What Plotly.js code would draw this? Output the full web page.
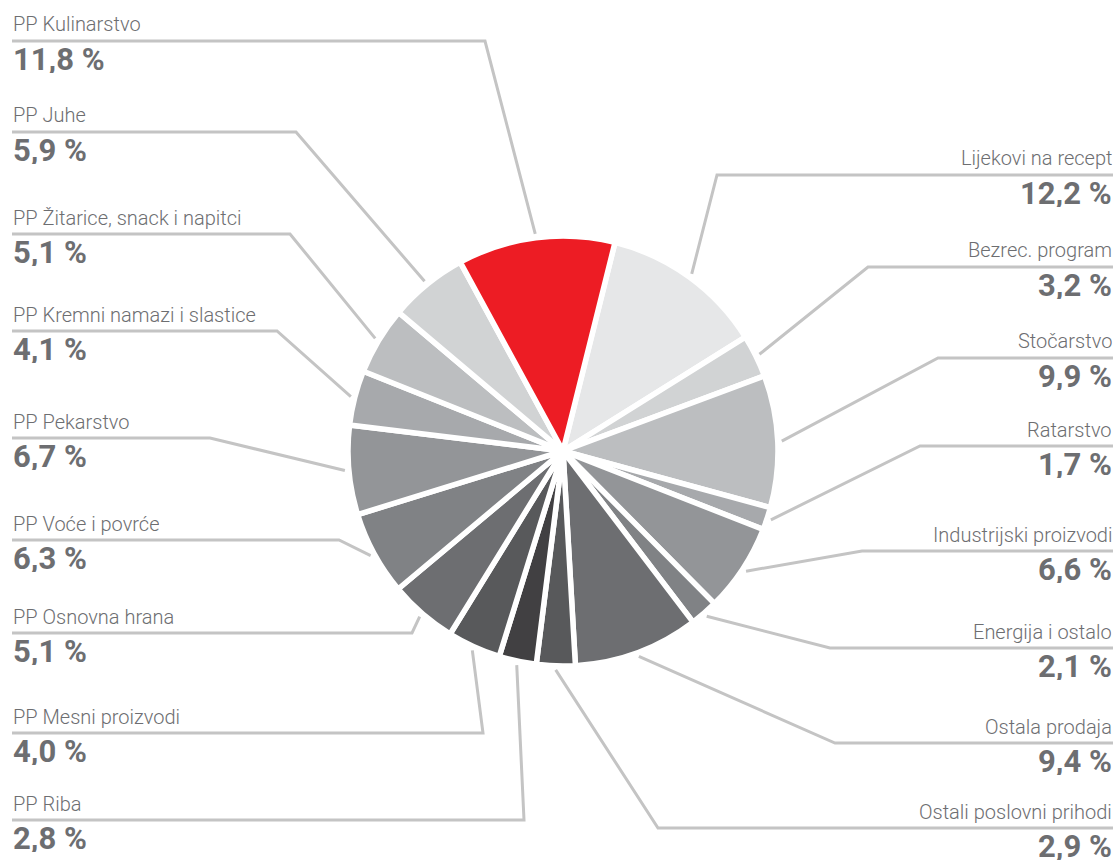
<!DOCTYPE html>
<html><head><meta charset="utf-8">
<script src="https://cdn.plot.ly/plotly-3.0.1.min.js"></script>
<style>html,body{margin:0;padding:0;background:#fff;} #chart{width:1119px;height:863px;}</style>
</head><body><div id="chart"></div>
<script>
// ---- data ----
const labels = ["Lijekovi na recept","Bezrec. program","Stočarstvo","Ratarstvo","Industrijski proizvodi","Energija i ostalo","Ostala prodaja","Ostali poslovni prihodi","PP Riba","PP Mesni proizvodi","PP Osnovna hrana","PP Voće i povrće","PP Pekarstvo","PP Kremni namazi i slastice","PP Žitarice, snack i napitci","PP Juhe","PP Kulinarstvo"];
const values = [12.2,3.2,9.9,1.7,6.6,2.1,9.4,2.9,2.8,4.0,5.1,6.3,6.7,4.1,5.1,5.9,11.8];

// ---- styling / layout config ----
const colors = ["#E6E7E8","#D1D3D4","#BCBEC0","#A7A9AC","#939598","#808285","#6D6E71","#58595B","#414042","#58595B","#6D6E71","#808285","#939598","#A7A9AC","#BCBEC0","#D1D3D4","#ED1C24"];
const side = ["r","r","r","r","r","r","r","r","l","l","l","l","l","l","l","l","l"];
const lineY = [175,267,358,446,551,648,743,828, 820,733,633,540,438,331,234,132,41];
const elbowX = [717,868,938,920,862,830,835,658, 524,483,412,339,210,277,290,296,485];

const W = 1119, H = 863;
const cx = 563, cy = 451, R = 215, rotation = 14;
const leftX = 12, rightX = 1113;
const textColor = "#6d6e71", lineColor = "#c4c4c4";

const px = x => x / W, py = y => 1 - y / H;

const total = values.reduce((a,b)=>a+b,0);
let ang = rotation;
const shapes = [], annotations = [];
values.forEach((v,i)=>{
  const mid = ang + v/total*180;
  ang += v/total*360;
  const rad = mid*Math.PI/180;
  const rA = 219;
  const ax = cx + rA*Math.sin(rad), ay = cy - rA*Math.cos(rad);
  const x0 = side[i]==="l" ? leftX : rightX;
  const path = `M ${px(x0)},${py(lineY[i])} L ${px(elbowX[i])},${py(lineY[i])} L ${px(ax)},${py(ay)}`;
  shapes.push({type:"path", xref:"paper", yref:"paper", path, line:{color:lineColor, width:3}, layer:"below"});
  const xa = side[i]==="l" ? "left" : "right";
  annotations.push({xref:"paper", yref:"paper", x:px(x0), y:py(lineY[i]-16.5), xanchor:xa, yanchor:"middle",
    height:22, valign:"middle", borderpad:0,
    text:labels[i], showarrow:false, font:{family:"Roboto", size:20, color:textColor, weight:300}});
  annotations.push({xref:"paper", yref:"paper", x:px(x0), y:py(lineY[i]+18), xanchor:xa, yanchor:"middle",
    height:28, valign:"middle", borderpad:0,
    text:v.toFixed(1).replace(".",",")+" %", showarrow:false, font:{family:"Roboto", size:31, color:textColor, weight:700}});
});

const trace = {
  type:"pie", labels, values, sort:false, direction:"clockwise", rotation,
  marker:{colors, line:{color:"#ffffff", width:5.5}},
  textinfo:"none", hoverinfo:"none", showlegend:false,
  domain:{x:[px(cx-R), px(cx+R)], y:[py(cy+R), py(cy-R)]}
};

Plotly.newPlot("chart", [trace], {
  width:W, height:H, margin:{l:0,r:0,t:0,b:0}, paper_bgcolor:"#fff",
  showlegend:false, shapes, annotations
}, {staticPlot:true});
</script></body></html>
